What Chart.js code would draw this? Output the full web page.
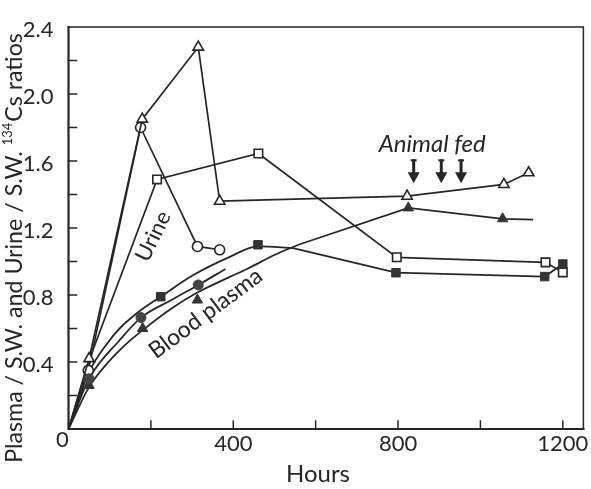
<!DOCTYPE html>
<html>
<head>
<meta charset="utf-8">
<script src="https://cdn.jsdelivr.net/npm/chart.js@4.4.0/dist/chart.umd.min.js"></script>
<style>
  html, body { margin: 0; padding: 0; background: #fff; }
</style>
</head>
<body>
<canvas id="chart" width="591" height="489"></canvas>
<script>
// Urine / S.W. ratios (open markers)
const urineTriHours = [0, 50, 179, 315, 367, 822, 1057, 1117];
const urineTriRatio = [0, 0.42, 1.85, 2.28, 1.36, 1.39, 1.46, 1.53];
const urineCircHours = [0, 48, 175, 313, 367];
const urineCircRatio = [0, 0.35, 1.80, 1.09, 1.07];
const urineSqHours = [0, 50, 215, 461, 797, 1158, 1200];
const urineSqRatio = [0, 0.41, 1.49, 1.645, 1.025, 0.995, 0.935];

// Blood plasma / S.W. ratios (filled markers)
const plasmaSqHours = [224, 460, 795, 1156, 1200];
const plasmaSqRatio = [0.79, 1.10, 0.933, 0.91, 0.985];
const plasmaCircHours = [50, 176, 315];
const plasmaCircRatio = [0.30, 0.665, 0.86];
const plasmaTriHours = [50, 180, 313, 825, 1054];
const plasmaTriRatio = [0.26, 0.60, 0.77, 1.32, 1.255];

// hand drawn plasma curves
const sqCurveHours = [0, 50, 100, 124, 176, 224, 300, 389, 460, 545];
const sqCurveRatio = [0, 0.34, 0.53, 0.60, 0.71, 0.79, 0.915, 1.025, 1.09, 1.08];
const sqTailHours = [545, 795, 1156, 1200];
const sqTailRatio = [1.08, 0.933, 0.91, 0.985];
const circCurveHours = [0, 50, 124, 176, 250, 315, 381];
const circCurveRatio = [0, 0.30, 0.53, 0.665, 0.77, 0.86, 0.955];
const triCurveHours = [0, 50, 124, 180, 250, 313, 389, 437, 501, 558];
const triCurveRatio = [0, 0.25, 0.47, 0.59, 0.72, 0.815, 0.905, 0.96, 1.04, 1.10];
const triTailHours = [558, 825, 1054, 1128];
const triTailRatio = [1.10, 1.32, 1.255, 1.25];

// feeding times (arrows)
const fedHours = [838, 905, 953];

const ink = '#262626';
const font = 'Lato, "Open Sans", sans-serif';

const pts = (xs, ys) => xs.map((h, i) => ({ x: h, y: ys[i] }));
const hideFirst = (n, r) => Array.from({ length: n }, (_, i) => (i === 0 ? 0 : r));

function urineLine(xs, ys, style, r, radii) {
  return {
    data: pts(xs, ys), showLine: true, tension: 0, order: 1,
    borderColor: ink, borderWidth: 1.7,
    pointStyle: style, pointRadius: radii || hideFirst(xs.length, r),
    pointBackgroundColor: '#fff', pointBorderColor: ink, pointBorderWidth: 1.6
  };
}
function curve(xs, ys, smooth) {
  return {
    data: pts(xs, ys), showLine: true, order: 2,
    tension: 0, cubicInterpolationMode: smooth ? 'monotone' : 'default',
    borderColor: ink, borderWidth: 1.8, pointRadius: 0
  };
}
function dots(xs, ys, style, r, fill) {
  return {
    data: pts(xs, ys), showLine: false, order: 0,
    pointStyle: style, pointRadius: r,
    pointBackgroundColor: fill, pointBorderColor: fill, pointBorderWidth: 1
  };
}

const datasets = [
  dots(plasmaSqHours, plasmaSqRatio, 'rect', 6, '#333'),
  dots(plasmaCircHours, plasmaCircRatio, 'circle', 5, '#444'),
  dots(plasmaTriHours, plasmaTriRatio, 'triangle', 6, '#333'),
  urineLine(urineTriHours, urineTriRatio, 'triangle', 6),
  urineLine(urineCircHours, urineCircRatio, 'circle', 5),
  urineLine(urineSqHours, urineSqRatio, 'rect', 6, [0, 0, 6, 6, 6, 6, 6]),
  curve(sqCurveHours, sqCurveRatio, true),
  curve(sqTailHours, sqTailRatio, false),
  curve(circCurveHours, circCurveRatio, true),
  curve(triCurveHours, triCurveRatio, true),
  curve(triTailHours, triTailRatio, false)
];

// frame, inward ticks, titles and notes
const decor = {
  id: 'decor',
  beforeDatasetsDraw(chart) {
    const { ctx, chartArea: a, scales: { x, y } } = chart;
    ctx.save();
    ctx.strokeStyle = ink;
    ctx.lineCap = 'square';
    ctx.lineWidth = 1.5;
    ctx.beginPath();
    ctx.moveTo(a.left, a.top); ctx.lineTo(a.right, a.top); ctx.lineTo(a.right, a.bottom);
    ctx.stroke();
    ctx.lineWidth = 2.2;
    ctx.beginPath();
    ctx.moveTo(a.left, a.top); ctx.lineTo(a.left, a.bottom); ctx.lineTo(a.right, a.bottom);
    ctx.stroke();
    ctx.lineWidth = 1.5;
    ctx.beginPath();
    x.ticks.forEach(t => {
      if (t.value === 0) return;
      const px = x.getPixelForValue(t.value);
      ctx.moveTo(px, a.bottom); ctx.lineTo(px, a.bottom - 8);
    });
    y.ticks.forEach(t => {
      if (t.value === 0 || Math.abs(t.value - 2.4) < 1e-6) return;
      const py = y.getPixelForValue(t.value);
      ctx.moveTo(a.left, py); ctx.lineTo(a.left + 8, py);
    });
    ctx.stroke();
    ctx.restore();
  },
  afterDraw(chart) {
    const { ctx, chartArea: a, scales: { x, y } } = chart;
    ctx.save();
    ctx.fillStyle = ink;

    // shared zero at the corner
    ctx.font = '22px ' + font;
    ctx.textAlign = 'center';
    ctx.textBaseline = 'middle';
    ctx.fillText('0', x.getPixelForValue(0) - 6, y.getPixelForValue(0) + 11);

    // x title
    ctx.font = '24px ' + font;
    ctx.fillText('Hours', 318, 474);

    // y title with superscript mass number
    ctx.save();
    ctx.translate(14, 248);
    ctx.rotate(-Math.PI / 2);
    const p1 = 'Plasma / S.W. and Urine / S.W. ', sup = '134', p2 = 'Cs ratios';
    const big = '23.2px ' + font, small = '13px ' + font;
    ctx.font = big;
    const w1 = ctx.measureText(p1).width, w2 = ctx.measureText(p2).width;
    ctx.font = small;
    const ws = ctx.measureText(sup).width + 1;
    let cx = -(w1 + ws + w2) / 2;
    ctx.textAlign = 'left';
    ctx.textBaseline = 'alphabetic';
    ctx.font = big;
    ctx.fillText(p1, cx, 8); cx += w1;
    ctx.font = small;
    ctx.fillText(sup, cx, -2); cx += ws;
    ctx.font = big;
    ctx.fillText(p2, cx, 8);
    ctx.restore();

    // curve labels
    const note = (text, h, v, deg, f) => {
      ctx.save();
      ctx.translate(x.getPixelForValue(h), y.getPixelForValue(v));
      ctx.rotate(deg * Math.PI / 180);
      ctx.font = f;
      ctx.textAlign = 'center';
      ctx.textBaseline = 'middle';
      ctx.fillText(text, 0, 0);
      ctx.restore();
    };
    note('Urine', 206, 1.15, -64, '22px ' + font);
    note('Blood plasma', 333, 0.69, -36.6, '23px ' + font);
    note('Animal fed', 883, 1.70, 0, 'italic 24px ' + font);

    // feeding arrows
    fedHours.forEach(h => {
      const px = x.getPixelForValue(h);
      const top = y.getPixelForValue(1.61), tip = y.getPixelForValue(1.467);
      ctx.fillRect(px - 1.5, top, 3, tip - top - 8);
      ctx.fillRect(px - 3, top, 6, 2);
      ctx.beginPath();
      ctx.moveTo(px - 6, tip - 11);
      ctx.lineTo(px + 6, tip - 11);
      ctx.lineTo(px, tip);
      ctx.closePath();
      ctx.fill();
    });
    ctx.restore();
  }
};

new Chart(document.getElementById('chart'), {
  type: 'scatter',
  data: { datasets },
  options: {
    responsive: false,
    animation: false,
    layout: { padding: { top: 27, right: 4, left: 0, bottom: 0 } },
    plugins: { legend: { display: false }, tooltip: { enabled: false } },
    scales: {
      x: {
        type: 'linear', min: 0, max: 1250,
        afterFit: s => { s.height = 60; },
        grid: { display: false }, border: { display: false },
        ticks: {
          stepSize: 200, includeBounds: false, autoSkip: false, maxRotation: 0,
          padding: -6, color: ink, font: { family: font, size: 22 },
          callback: v => (v % 400 === 0 && v > 0 ? String(v) : '')
        }
      },
      y: {
        type: 'linear', min: 0, max: 2.4,
        afterFit: s => { s.width = 68.5; },
        grid: { display: false }, border: { display: false },
        ticks: {
          stepSize: 0.2, includeBounds: false, autoSkip: false,
          padding: 7, labelOffset: 3, color: ink, font: { family: font, size: 22 },
          callback: v => {
            const k = Math.round(v * 10);
            return k % 4 === 0 && k > 0 ? (k / 10).toFixed(1) : '';
          }
        }
      }
    }
  },
  plugins: [decor]
});
</script>
</body>
</html>
